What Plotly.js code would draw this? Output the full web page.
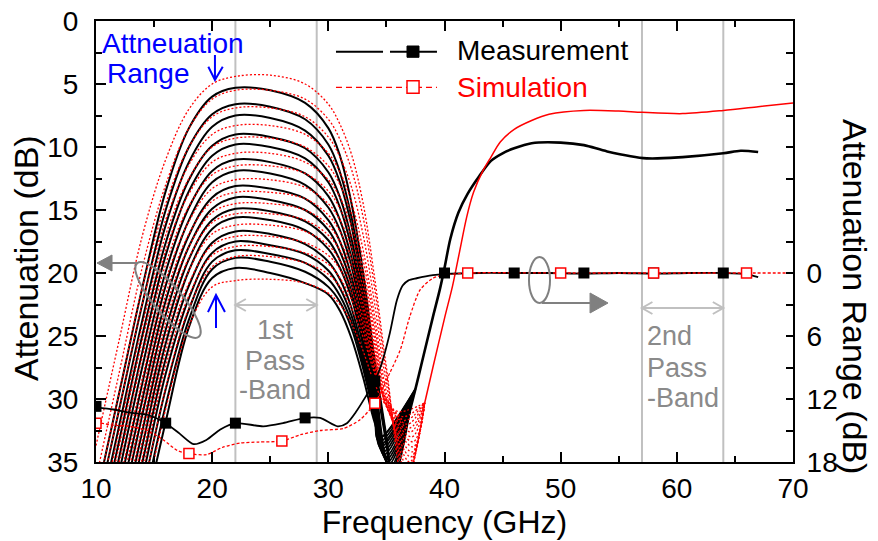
<!DOCTYPE html>
<html><head><meta charset="utf-8">
<script src="https://cdn.plot.ly/plotly-3.0.1.min.js"></script>
<style>html,body{margin:0;padding:0;background:#fff;}#chart{width:878px;height:541px;}</style>
</head><body><div id="chart"></div>
<script>
const FONT = 'Liberation Sans, Arial, Helvetica, sans-serif';

// ---- Measurement family (16 attenuation states), left axis (dB) ----
const measKnotX = [10,12,14,16,18,20,22,25,28,30,31,32,33,34];
const measFamilyY = [
  [37.9,29.5,21.1,13.5,8.5,6.0,5.3,5.5,6.5,8.5,10.7,14.5,20.0,27.0],
  [39.2,30.8,22.4,15.0,10.0,7.4,6.6,6.8,7.8,9.8,12.0,15.6,21.0,27.6],
  [40.5,32.1,23.7,16.2,11.2,8.4,7.5,7.7,8.7,10.7,12.8,16.3,21.5,28.0],
  [41.7,33.3,24.9,17.6,12.6,9.9,9.0,9.2,10.1,12.0,14.0,17.3,22.2,28.5],
  [43.0,34.6,26.2,18.6,13.5,10.7,9.8,10.0,10.9,12.8,14.8,18.0,22.8,28.9],
  [44.2,35.8,27.4,19.9,14.8,11.9,11.0,11.2,12.1,13.9,15.8,18.8,23.4,29.3],
  [45.5,37.1,28.7,21.0,15.8,12.8,11.9,12.1,13.0,14.8,16.6,19.5,23.9,29.6],
  [46.8,38.4,30.0,22.2,17.0,14.0,13.1,13.3,14.1,15.8,17.5,20.3,24.5,30.0],
  [48.0,39.6,31.2,23.3,17.9,14.9,14.0,14.2,15.0,16.6,18.3,20.9,25.0,30.3],
  [49.0,40.9,32.5,24.5,18.9,15.8,14.9,15.1,15.9,17.4,19.0,21.5,25.4,30.6],
  [50.0,42.0,33.7,25.6,19.8,16.5,15.6,15.8,16.6,18.1,19.6,22.0,25.8,30.8],
  [51.0,43.4,35.0,26.8,21.0,17.6,16.7,16.9,17.7,19.1,20.5,22.8,26.4,31.1],
  [52.0,44.6,36.3,28.0,22.0,18.4,17.5,17.8,18.5,19.8,21.2,23.4,26.8,31.3],
  [53.0,45.9,37.5,29.2,22.9,19.1,18.2,18.5,19.2,20.5,21.8,23.9,27.2,31.5],
  [54.0,47.1,38.8,30.5,23.7,19.7,18.8,19.1,19.9,21.1,22.3,24.4,27.6,31.6],
  [55.0,48.4,40.0,31.8,24.3,20.4,19.6,20.0,20.8,21.7,23.0,25.2,28.3,31.9]
];
const measNotchX = [[35,35.6,37],[35,35.5,37],[35,35.4,37],[35.3,37],[35.2,37],[35.1,37],[35.0,37],[34.9,37],
                    [34.8,37.2],[34.7,37.2],[34.6,37.3],[34.5,37.3],[34.5,37.4],[34.4,37.4],[34.3,37.5],[34.5,37.5]];
const measNotchY = [[33.0,36.5,31],[33.2,36.0,31],[33.6,35.8,31],[35.5,31],[35.2,31],[35.0,31],[34.8,31],[34.6,31],
                    [34.4,30.2],[34.2,30.2],[34.0,29.9],[33.8,29.9],[33.6,29.5],[33.4,29.5],[33.2,29.2],[33.0,29.2]];
const measCommonX = [37,37.5,38,39,39.6,40,40.5,41.2,42,43,44,45,46,47.5,50,52,54,57.4,60.5,64,65.5,67];
const measCommonY = [31,29.2,27.3,23.5,21.3,19.6,17.3,15.2,13.7,12.3,11.1,10.5,10.1,9.7,9.65,9.85,10.35,10.9,10.8,10.5,10.3,10.4];

// ---- Simulation family (16 states), left axis (dB) ----
const simKnotX = [10,12,14,16,18,20,22,25,28,30,31,32,33,34,35];
const simFamilyY = [
  [33.7,25.3,17.0,11.0,7.0,5.0,4.4,4.3,5.0,6.6,8.2,10.6,14.5,20.5,27.5],
  [36.3,27.9,19.5,13.0,8.5,6.2,5.5,5.5,6.2,7.8,9.4,11.8,15.6,21.3,28.0],
  [37.9,29.5,21.1,14.5,10.0,7.6,6.9,6.9,7.6,9.2,10.8,13.2,17.0,22.5,28.8],
  [39.2,30.8,22.4,15.8,11.4,9.0,8.3,8.3,9.0,10.5,12.0,14.4,18.2,23.5,29.5],
  [40.9,32.5,24.1,17.0,12.5,10.0,9.3,9.3,10.0,11.5,13.0,15.3,19.0,24.2,30.0],
  [42.1,33.7,25.3,18.2,13.7,11.2,10.5,10.5,11.2,12.6,14.0,16.3,19.8,24.8,30.3],
  [43.4,35.0,26.6,19.3,14.7,12.2,11.5,11.5,12.1,13.5,14.9,17.1,20.5,25.3,30.5],
  [45.0,36.7,28.3,20.6,15.9,13.3,12.6,12.6,13.2,14.5,15.8,18.0,21.2,25.8,30.6],
  [46.3,37.9,29.5,21.7,16.9,14.3,13.6,13.6,14.1,15.4,16.7,18.8,21.9,26.2,30.6],
  [47.6,39.2,30.8,22.8,17.9,15.2,14.5,14.5,15.0,16.2,17.5,19.5,22.5,26.6,30.5],
  [48.9,40.5,32.1,23.9,18.8,16.0,15.3,15.3,15.8,17.0,18.2,20.2,23.0,26.9,30.4],
  [50.1,41.7,33.3,25.0,19.8,16.9,16.2,16.2,16.7,17.8,19.0,20.9,23.6,27.2,30.2],
  [51.4,43.0,34.6,26.2,20.8,17.8,17.1,17.1,17.6,18.6,19.7,21.5,24.1,27.5,30.1],
  [52.6,44.2,35.8,27.4,21.8,18.6,17.9,17.9,18.4,19.3,20.4,22.1,24.6,27.8,30.0],
  [54.3,45.9,37.5,29.1,22.8,19.5,18.7,18.7,19.2,20.1,21.1,22.8,25.1,28.0,30.0],
  [56.0,47.6,39.2,30.8,24.2,21.1,20.6,20.5,20.8,21.6,22.5,24.0,26.2,28.8,30.5]
];
const simNotchX = [[36.6,38.3],[36.7,38.3],[36.8,38.3],[36.9,38.3],[37.0,38.3],[37.1,38.3],[37.2,38.3],[37.3,38.3],
                   [37.3,38.3],[37.2,38.3],[37.1,38.3],[37.0,38.3],[36.8,38.3],[36.6,38.3],[36.4,38.3],[36.2,38.3]];
const simNotchY = [[37.0,30.3],[36.5,30.3],[36.0,30.3],[35.5,30.3],[35.0,30.3],[34.6,30.3],[34.2,30.3],[33.8,30.3],
                   [33.4,30.3],[33.0,30.3],[32.6,30.3],[32.3,30.3],[32.0,30.3],[31.7,30.3],[31.4,30.3],[31.0,30.3]];
const simCommonX = [38.3,39,40,40.7,41.3,41.9,42.5,43.3,44,44.8,46,47.5,49,52,55,57,60.5,64,67,70];
const simCommonY = [30.3,27.5,23.6,21.0,18.3,15.6,13.6,11.9,10.8,9.6,8.6,7.9,7.4,7.1,7.15,7.25,7.35,7.1,6.8,6.5];

// ---- Attenuation range, right axis (dB) ----
const measRangeX = [10,11.5,12.9,14.4,16,17.2,18.4,19.5,20.7,22,24.4,26.1,28,29.3,30.8,31.6,32.4,33.2,34,34.6,35.3,35.9,36.4,36.9,37.6,39,40,43,46,49,52,55,58,61,64,66,67];
const measRangeY = [12.8,13.0,13.3,13.5,14.3,15.3,16.3,15.9,14.9,14.3,14.6,14.3,13.8,13.8,14.6,14.3,13.2,11.8,10.3,8.6,5.7,2.6,1.2,0.7,0.5,0.2,0.1,0,0,0,0.05,0,0.05,0,0,0.1,0.4];
const measMarkX = [10,16,22,28,34,40,46,52,58,64];
const measMarkY = [12.7,14.3,14.3,13.8,10.3,0,0,0,0,0];
const simRangeX = [10,11.5,12.9,14.4,15.8,17,18,19.5,20.9,22.4,24,26,27.6,29.3,31.3,32.7,34,35.3,36.2,37,37.9,39,40,42,50,60,70];
const simRangeY = [14.2,14.5,14.6,15.0,15.9,16.9,17.2,17.3,16.6,16.2,16.1,16.0,15.4,15.0,14.8,14.0,12.4,9.5,7.3,4.2,1.6,0.5,0.2,0,0,0,0];
const simMarkX = [10,18,26,34,42,50,58,66];
const simMarkY = [14.3,17.2,16.0,12.4,0,0,0,0];

// ---- Axis ticks ----
const rightTickVals = [-24,-21,-18,-15,-12,-9,-6,-3,0,3,6,9,12,15,18];
const rightTickText = ['','','','','','','','','0','','6','','12','','18'];
const passBand1 = [22,29];
const passBand2 = [57,64];

const traces = [];
measFamilyY.forEach((ys, i) => {
  traces.push({x: measKnotX.concat(measNotchX[i]), y: ys.concat(measNotchY[i]), type:'scatter', mode:'lines',
    line:{color:'#000', width:2, shape:'spline', smoothing:1}, hoverinfo:'skip'});
});
simFamilyY.forEach((ys, i) => {
  traces.push({x: simKnotX.concat(simNotchX[i]), y: ys.concat(simNotchY[i]), type:'scatter', mode:'lines',
    line:{color:'#ff0000', width:1.3, dash:'2px,2px', shape:'spline', smoothing:1}, hoverinfo:'skip'});
});
traces.push({x: measCommonX, y: measCommonY, type:'scatter', mode:'lines',
  line:{color:'#000', width:2.6, shape:'spline', smoothing:0.8}});
traces.push({x: simCommonX, y: simCommonY, type:'scatter', mode:'lines',
  line:{color:'#ff0000', width:1.5, shape:'spline', smoothing:0.8}});
traces.push({x: measRangeX, y: measRangeY, yaxis:'y2', type:'scatter', mode:'lines',
  line:{color:'#000', width:1.8, shape:'spline', smoothing:0.7}});
traces.push({x: simRangeX, y: simRangeY, yaxis:'y2', type:'scatter', mode:'lines',
  line:{color:'#ff0000', width:1.3, dash:'3px,2px', shape:'spline', smoothing:0.7}});
traces.push({x: measMarkX, y: measMarkY, yaxis:'y2', type:'scatter', mode:'markers',
  marker:{symbol:'square', size:11, color:'#000'}});
traces.push({x: simMarkX, y: simMarkY, yaxis:'y2', type:'scatter', mode:'markers',
  marker:{symbol:'square', size:10, color:'#fff', line:{color:'#ff0000', width:1.5}}});

const grey = '#808080', lgrey = '#c0c0c0';
const shapes = [];
[passBand1[0], passBand1[1], passBand2[0], passBand2[1]].forEach(v => {
  shapes.push({type:'line', xref:'x', yref:'paper', x0:v, x1:v, y0:0, y1:1, line:{color:lgrey, width:2}, layer:'below'});
});
function bandArrow(a, b, yp) {
  shapes.push({type:'line', xref:'x', yref:'paper', x0:a, x1:b, y0:yp, y1:yp, line:{color:lgrey, width:2}});
  shapes.push({type:'path', xref:'x', yref:'paper', path:`M ${a+0.9},${yp+0.0136} L ${a},${yp} L ${a+0.9},${yp-0.0136}`, line:{color:lgrey, width:2}});
  shapes.push({type:'path', xref:'x', yref:'paper', path:`M ${b-0.9},${yp+0.0136} L ${b},${yp} L ${b-0.9},${yp-0.0136}`, line:{color:lgrey, width:2}});
}
bandArrow(passBand1[0], passBand1[1], 0.356);
bandArrow(passBand2[0], passBand2[1], 0.3492);
// left ellipse + arrow pointing to left axis
shapes.push({type:'path', xref:'paper', yref:'paper', line:{color:grey, width:2},
  path:'M 0.14756,0.28397 C 0.13907,0.27270 0.11237,0.30088 0.08792,0.34694 C 0.06347,0.39299 0.05054,0.43946 0.05904,0.45073 C 0.06753,0.46200 0.09423,0.43381 0.11868,0.38776 C 0.14313,0.34170 0.15605,0.29524 0.14756,0.28397 Z'});
shapes.push({type:'line', xref:'paper', yref:'paper', x0:0.0588, x1:0.0230, y0:0.4512, y1:0.4512, line:{color:grey, width:2}});
shapes.push({type:'path', xref:'paper', yref:'paper', path:'M 0.0014,0.4512 L 0.0230,0.4694 L 0.0230,0.4331 Z', fillcolor:grey, line:{color:grey, width:1}});
// right ellipse + arrow pointing to right axis
shapes.push({type:'circle', xref:'paper', yref:'paper', x0:0.6212, x1:0.6514, y0:0.3605, y1:0.4649, line:{color:grey, width:2}});
shapes.push({type:'line', xref:'paper', yref:'paper', x0:0.6399, x1:0.7088, y0:0.3605, y1:0.3605, line:{color:grey, width:2}});
shapes.push({type:'path', xref:'paper', yref:'paper', path:'M 0.7346,0.3605 L 0.7088,0.3832 L 0.7088,0.3379 Z', fillcolor:grey, line:{color:grey, width:1}});
// blue arrows
shapes.push({type:'path', xref:'x', yref:'y', path:'M 20.24,2.70 L 20.24,4.68 M 19.67,3.63 L 20.24,4.68 L 20.91,3.63', line:{color:'#0000ff', width:2}});
shapes.push({type:'path', xref:'x', yref:'y', path:'M 20.33,24.37 L 20.33,21.75 M 19.64,23.10 L 20.33,21.75 L 21.10,23.10', line:{color:'#0000ff', width:2}});
// legend samples
shapes.push({type:'line', xref:'paper', yref:'paper', x0:0.3443, x1:0.4118, y0:0.9304, y1:0.9304, line:{color:'#000', width:2}});
shapes.push({type:'line', xref:'paper', yref:'paper', x0:0.4218, x1:0.4892, y0:0.9304, y1:0.9304, line:{color:'#000', width:2}});
shapes.push({type:'rect', xref:'paper', yref:'paper', x0:0.4462, x1:0.4634, y0:0.9177, y1:0.9433, fillcolor:'#000', line:{color:'#000', width:1}});
shapes.push({type:'line', xref:'paper', yref:'paper', x0:0.3443, x1:0.4892, y0:0.8496, y1:0.8496, line:{color:'#ff0000', width:1.3, dash:'6px,4px'}});
shapes.push({type:'rect', xref:'paper', yref:'paper', x0:0.4462, x1:0.4635, y0:0.8361, y1:0.8646, fillcolor:'#fff', line:{color:'#ff0000', width:1.5}});

function ann(text, x, y, opts) {
  return Object.assign({text:text, x:x, y:y, xref:'paper', yref:'paper', showarrow:false,
    xanchor:'left', yanchor:'middle', font:{family:FONT, size:28, color:'#000'}}, opts || {});
}
const bandGrey = '#8a8a8a';
const annotations = [
  ann('Attneuation', 0.0057, 0.948, {font:{family:FONT, size:28, color:'#0000ff'}}),
  ann('Range', 0.0129, 0.882, {font:{family:FONT, size:28, color:'#0000ff'}}),
  ann('Measurement', 0.5151, 0.9331),
  ann('Simulation', 0.5151, 0.8492, {font:{family:FONT, size:28, color:'#ff0000'}}),
  ann('1st', 25.41, 0.3000, {xref:'x', xanchor:'center', font:{family:FONT, size:27, color:bandGrey}}),
  ann('Pass', 25.41, 0.2290, {xref:'x', xanchor:'center', font:{family:FONT, size:27, color:bandGrey}}),
  ann('-Band', 25.41, 0.1640, {xref:'x', xanchor:'center', font:{family:FONT, size:27, color:bandGrey}}),
  ann('2nd', 57.26, 0.2850, {xref:'x', font:{family:FONT, size:27, color:bandGrey}}),
  ann('Pass', 57.26, 0.2140, {xref:'x', font:{family:FONT, size:27, color:bandGrey}}),
  ann('-Band', 57.26, 0.1440, {xref:'x', font:{family:FONT, size:27, color:bandGrey}}),
  ann('Attenuation (dB)', -0.1004, 0.4626, {xanchor:'center', textangle:-90, font:{family:FONT, size:34, color:'#000'}}),
  ann('Attenuation Range (dB)', 1.0889, 0.3741, {xanchor:'center', textangle:90, font:{family:FONT, size:34, color:'#000'}})
];

const tickFont = {family:FONT, size:28, color:'#000'};
const layout = {
  width:878, height:541, margin:{l:96, r:85, t:21, b:79, pad:0},
  paper_bgcolor:'#fff', plot_bgcolor:'#fff', showlegend:false, hovermode:false,
  font:{family:FONT, color:'#000'},
  xaxis:{range:[10,70], tickmode:'linear', tick0:10, dtick:10, ticks:'inside', ticklen:10, tickwidth:2, tickcolor:'#000',
    showline:true, linewidth:2, linecolor:'#000', mirror:'ticks', showgrid:false, zeroline:false, tickfont:tickFont,
    ticklabelstandoff:0,
    minor:{dtick:5, ticks:'inside', ticklen:6, tickwidth:2, tickcolor:'#000', showgrid:false},
    title:{text:'Frequency (GHz)', font:{family:FONT, size:32, color:'#000'}, standoff:8}, automargin:false},
  yaxis:{range:[35,0], tickmode:'linear', tick0:0, dtick:5, ticks:'inside', ticklen:10, tickwidth:2, tickcolor:'#000',
    showline:true, linewidth:2, linecolor:'#000', showgrid:false, zeroline:false, tickfont:tickFont, ticklabelstandoff:10,
    minor:{dtick:2.5, ticks:'inside', ticklen:6, tickwidth:2, tickcolor:'#000', showgrid:false}, automargin:false},
  yaxis2:{overlaying:'y', side:'right', range:[18,-24], tickmode:'array', tickvals:rightTickVals, ticktext:rightTickText,
    ticks:'inside', ticklen:7, tickwidth:2, tickcolor:'#000', showline:true, linewidth:2, linecolor:'#000',
    showgrid:false, zeroline:false, tickfont:tickFont, ticklabelstandoff:6, automargin:false},
  shapes:shapes, annotations:annotations
};
Plotly.newPlot('chart', traces, layout, {staticPlot:true, displayModeBar:false});
</script></body></html>
